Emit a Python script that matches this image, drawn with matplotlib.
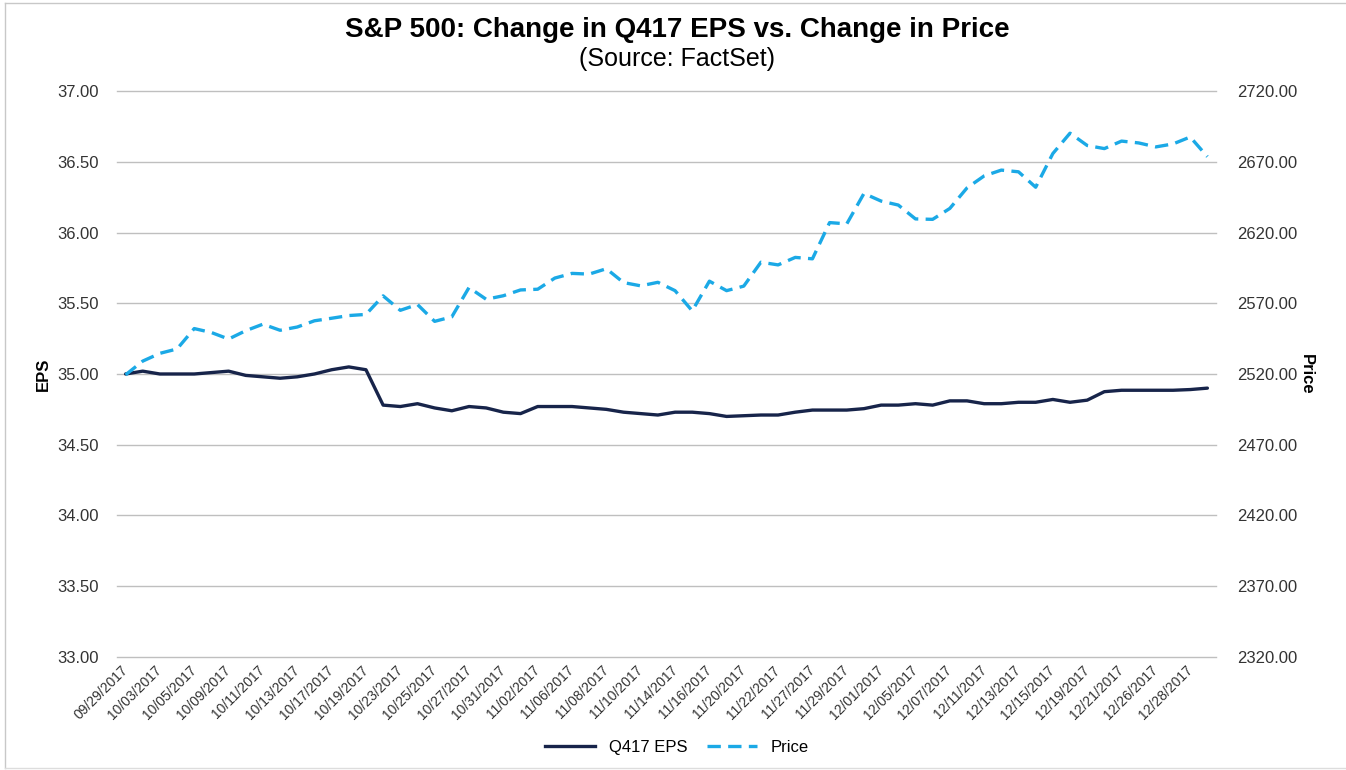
import matplotlib.pyplot as plt
from matplotlib.lines import Line2D

plt.rcParams["font.family"] = ["Liberation Sans", "DejaVu Sans"]

dates = [
    "09/29/2017",
    "10/02/2017", "10/03/2017", "10/04/2017", "10/05/2017", "10/06/2017",
    "10/09/2017", "10/10/2017", "10/11/2017", "10/12/2017", "10/13/2017",
    "10/16/2017", "10/17/2017", "10/18/2017", "10/19/2017", "10/20/2017",
    "10/23/2017", "10/24/2017", "10/25/2017", "10/26/2017", "10/27/2017",
    "10/30/2017", "10/31/2017", "11/01/2017", "11/02/2017", "11/03/2017",
    "11/06/2017", "11/07/2017", "11/08/2017", "11/09/2017", "11/10/2017",
    "11/13/2017", "11/14/2017", "11/15/2017", "11/16/2017", "11/17/2017",
    "11/20/2017", "11/21/2017", "11/22/2017", "11/24/2017",
    "11/27/2017", "11/28/2017", "11/29/2017", "11/30/2017", "12/01/2017",
    "12/04/2017", "12/05/2017", "12/06/2017", "12/07/2017", "12/08/2017",
    "12/11/2017", "12/12/2017", "12/13/2017", "12/14/2017", "12/15/2017",
    "12/18/2017", "12/19/2017", "12/20/2017", "12/21/2017", "12/22/2017",
    "12/26/2017", "12/27/2017", "12/28/2017", "12/29/2017",
]

eps = [
    35.00,
    35.02, 35.00, 35.00, 35.00, 35.01,
    35.02, 34.99, 34.98, 34.97, 34.98,
    35.00, 35.03, 35.05, 35.03, 34.78,
    34.77, 34.79, 34.76, 34.74, 34.77,
    34.76, 34.73, 34.72, 34.77, 34.77,
    34.77, 34.76, 34.75, 34.73, 34.72,
    34.71, 34.73, 34.73, 34.72, 34.70,
    34.705, 34.71, 34.71, 34.73,
    34.745, 34.745, 34.745, 34.755, 34.78,
    34.78, 34.79, 34.78, 34.81, 34.81,
    34.79, 34.79, 34.80, 34.80, 34.82,
    34.80, 34.815, 34.875, 34.885, 34.885,
    34.885, 34.885, 34.89, 34.90,
]

price = [
    2519.4,
    2529.1, 2534.6, 2537.7, 2552.1, 2549.3,
    2544.7, 2550.6, 2555.2, 2550.9, 2553.2,
    2557.6, 2559.4, 2561.3, 2562.1, 2575.2,
    2565.0, 2569.1, 2557.2, 2560.4, 2581.1,
    2572.8, 2575.3, 2579.4, 2579.9, 2587.8,
    2591.1, 2590.6, 2594.4, 2584.6, 2582.3,
    2584.8, 2578.9, 2564.6, 2585.6, 2578.9,
    2582.1, 2599.0, 2597.1, 2602.4,
    2601.4, 2627.0, 2626.1, 2647.6, 2642.2,
    2639.4, 2629.6, 2629.3, 2637.0, 2651.5,
    2660.0, 2664.1, 2662.9, 2652.0, 2675.8,
    2690.2, 2681.5, 2679.3, 2684.6, 2683.3,
    2680.5, 2682.6, 2687.5, 2673.6,
]

eps_ticks = [33.0, 33.5, 34.0, 34.5, 35.0, 35.5, 36.0, 36.5, 37.0]
price_ticks = [2320, 2370, 2420, 2470, 2520, 2570, 2620, 2670, 2720]

navy = "#17244a"
blue = "#1ba9e6"
grid = "#bfbfbf"

fig = plt.figure(figsize=(13.46, 7.70), dpi=100)
ax = fig.add_axes([0.0869, 0.1468, 0.8165, 0.735])
ax2 = ax.twinx()

x = list(range(len(dates)))
ax.plot(x, eps, color=navy, linewidth=2.4, solid_capstyle="round")
ax2.plot(x, price, color=blue, linewidth=2.4, linestyle=(0, (4, 2.2)))

ax.set_xlim(-0.5, len(dates) - 0.5)
ax.set_ylim(33, 37)
ax2.set_ylim(2320, 2720)

ax.set_yticks(eps_ticks)
ax.set_yticklabels([f"{v:.2f}" for v in eps_ticks])
ax2.set_yticks(price_ticks)
ax2.set_yticklabels([f"{v:.2f}" for v in price_ticks])

ax.set_xticks(x[::2])
ax.set_xticklabels(dates[::2], rotation=45, ha="right", va="center",
                   rotation_mode="anchor", fontsize=10)

ax.grid(axis="y", color=grid, linewidth=1, clip_on=False)
ax.set_axisbelow(True)
for a in (ax, ax2):
    for s in a.spines.values():
        s.set_visible(False)
ax.tick_params(axis="y", length=0, pad=13, labelsize=12, labelcolor="#333333")
ax2.tick_params(axis="y", length=0, pad=15, labelsize=12, labelcolor="#333333")
ax.tick_params(axis="x", length=0, pad=8, labelcolor="#333333")

ax.set_ylabel("EPS", fontsize=12, fontweight="bold", labelpad=5)
ax2.set_ylabel("Price", fontsize=12, fontweight="bold", rotation=-90, labelpad=12)

fig.text(0.503, 0.961, "S&P 500: Change in Q417 EPS vs. Change in Price",
         ha="center", va="center", fontsize=20, fontweight="bold")
fig.text(0.503, 0.924, "(Source: FactSet)", ha="center", va="center", fontsize=18)

handles = [
    Line2D([], [], color=navy, linewidth=2.4),
    Line2D([], [], color=blue, linewidth=2.4, linestyle=(0, (4, 2.2))),
]
fig.legend(handles, ["Q417 EPS", "Price"], loc="center", bbox_to_anchor=(0.503, 0.029),
           ncol=2, frameon=False, fontsize=12, handlelength=3.0, columnspacing=1.2)

# thin frame like the source screenshot
fig.add_artist(Line2D([0.004, 0.004], [0.003, 0.996], color="#c8c8c8", linewidth=1))
fig.add_artist(Line2D([0.004, 1.0], [0.996, 0.996], color="#c8c8c8", linewidth=1))
fig.add_artist(Line2D([0.004, 1.0], [0.003, 0.003], color="#dddddd", linewidth=1))

fig.savefig("out.png", dpi=100)
